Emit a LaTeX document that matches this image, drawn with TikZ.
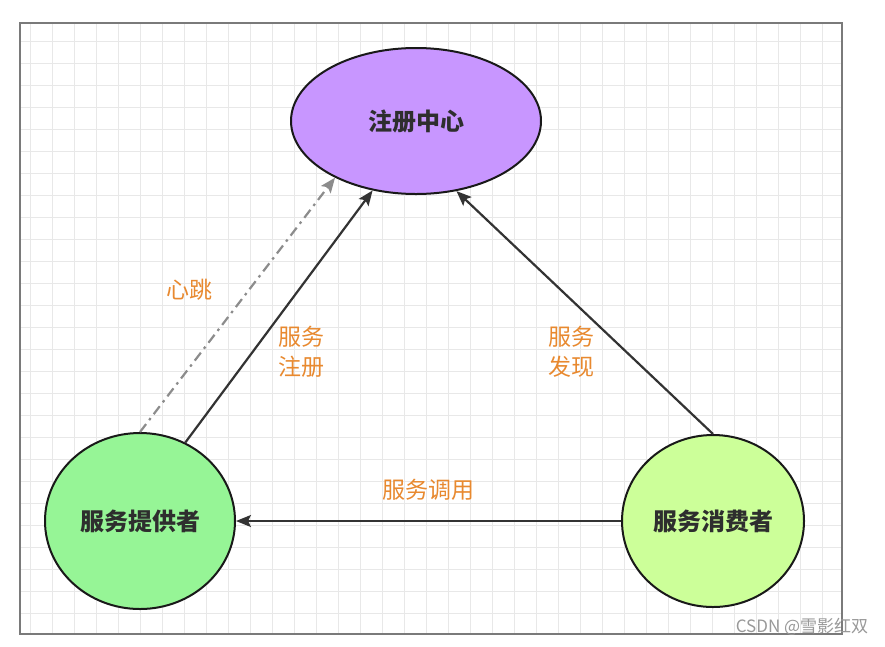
\documentclass[tikz,border=0pt]{standalone}
\usepackage{fontspec}
\newfontfamily\cjk{Noto Sans CJK SC}
\usetikzlibrary{shapes.geometric,arrows.meta}
\definecolor{regfill}{HTML}{C896FF}
\definecolor{provfill}{HTML}{96F596}
\definecolor{consfill}{HTML}{CCFF99}
\definecolor{lbl}{HTML}{E8892F}
\definecolor{gridc}{HTML}{E8E8E8}
\definecolor{framec}{HTML}{7A7A7A}
\definecolor{nodetext}{HTML}{2E2E2E}
\tikzset{
  entity/.style={ellipse, draw=black!90, line width=2pt, inner sep=0pt,
    text=nodetext, font=\cjk\bfseries\fontsize{24}{28}\selectfont},
  conn/.style={line width=2.2pt, draw=black!80,
    -{Stealth[length=15pt,width=12pt,inset=3pt]}},
  beat/.style={line width=2.2pt, draw=black!45, dash pattern=on 10pt off 5pt on 2.5pt off 5pt,
    -{Stealth[length=15pt,width=12pt,inset=3pt]}},
  edgelbl/.style={text=lbl, font=\cjk\fontsize{23}{30}\selectfont, align=left, inner sep=0pt},
  gridline/.style={draw=gridc, line width=0.7pt},
}
\begin{document}
\begin{tikzpicture}[x=1pt,y=-1pt]
\useasboundingbox (0,0) rectangle (885,646);
\fill[white] (0,0) rectangle (885,646);
% grid
\foreach \gx in {30,52,...,822} \draw[gridline] (\gx,23) -- (\gx,634);
\foreach \gy in {41,63,...,613} \draw[gridline] (20,\gy) -- (842,\gy);
% frame
\draw[framec, line width=2.2pt] (20,23) rectangle (842,634);
% nodes
\node[entity, fill=regfill, minimum width=250pt, minimum height=146pt] (reg) at (416,121) {注册中心};
\node[entity, fill=provfill, minimum width=190pt, minimum height=176pt] (prov) at (140,521) {服务提供者};
\node[entity, fill=consfill, minimum width=182pt, minimum height=172pt] (cons) at (713,521) {服务消费者};
% connectors
\draw[beat] (prov.90) -- (reg.215);
\draw[conn] (prov.60) -- (reg.238);
\draw[conn] (cons.90) -- (reg.300);
\draw[conn] (cons.west) -- (prov.east);
% labels
\node[edgelbl] (lbeat) at (189,290) {心跳};
\node[edgelbl] (lreg) at (301,352) {服务\\注册};
\node[edgelbl] (ldisc) at (571,352) {服务\\发现};
\node[edgelbl] (lcall) at (428,490) {服务调用};
% watermark
\node[text=black!40, font=\cjk\fontsize{17}{20}\selectfont, inner sep=0pt] (wm) at (802,627) {CSDN @雪影红双};
\end{tikzpicture}
\end{document}
